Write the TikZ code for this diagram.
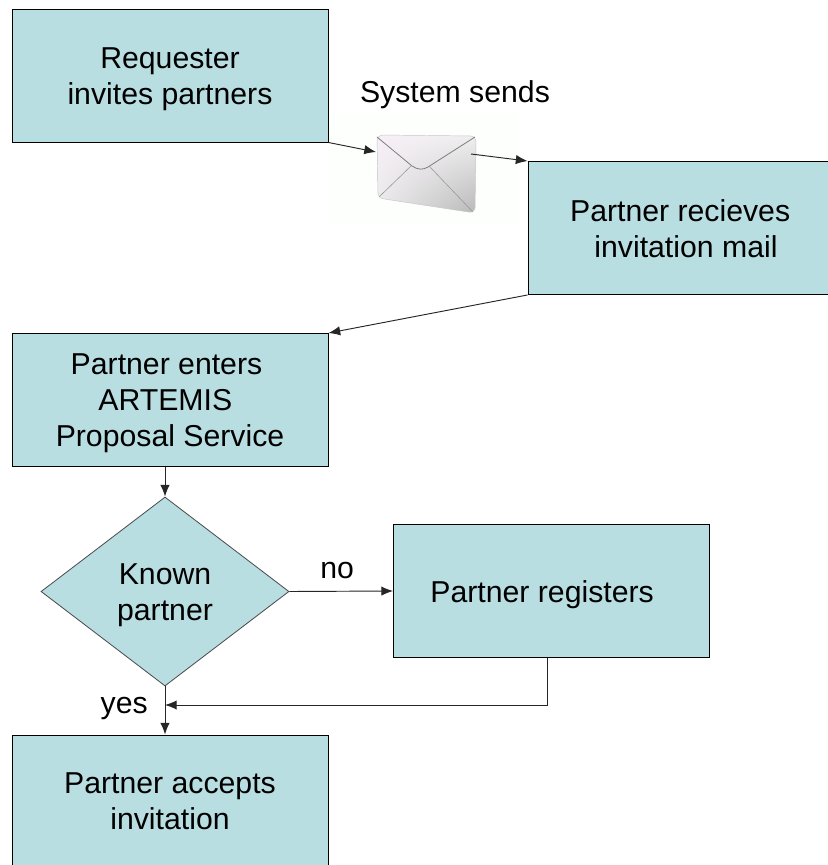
\documentclass[tikz,border=0pt]{standalone}
\usepackage{fontspec}
\setmainfont{Liberation Sans}
\usepackage{xcolor}
\usetikzlibrary{shapes,shadings,arrows.meta,positioning}
\definecolor{boxteal}{HTML}{B8DEE2}
\newcommand{\flowlines}[2]{\raisebox{-#1}[\height][\depth]{\begin{tabular}{@{}c@{}}#2\end{tabular}}}
\tikzset{
  flowbox/.style={draw=black,fill=boxteal,line width=0.8pt,minimum width=9.48cm,minimum height=3.99cm,align=center,inner sep=0pt},
  flowdia/.style={diamond,draw=black!70,fill=boxteal,line width=0.7pt,minimum width=7.44cm,minimum height=5.67cm,aspect=1.31,align=center,inner sep=0pt},
  flowtext/.style={font=\fontsize{25.8}{30.8}\selectfont},
  flowarrow/.style={draw=black!85,line width=0.8pt,-{Latex[length=10pt,width=8pt]}}
}
\begin{document}
\begin{tikzpicture}[x=0.03cm,y=-0.03cm]
\useasboundingbox (0,0) rectangle (827,865);
\fill[white] (0,0) rectangle (827,865);

% Boxes
\node[flowbox,flowtext] (request) at (170,75.5) {\flowlines{3.3pt}{Requester\\invites partners}};
\node[flowbox,flowtext] (receive) at (686,228) {\flowlines{3.8pt}{\hspace*{-10pt}Partner recieves\\invitation mail}};
\node[flowbox,flowtext] (enter) at (170,400) {\flowlines{2.8pt}{\hspace*{-6pt}Partner enters\\\hspace*{-8pt}ARTEMIS\\Proposal Service}};
\node[flowdia,flowtext] (known) at (165,591.5) {\flowlines{3pt}{Known\\partner}};
\node[flowbox,flowtext] (register) at (551.5,591) {\hspace*{-16pt}\flowlines{3.4pt}{Partner registers}};
\node[flowbox,flowtext] (accept) at (170,801.5) {Partner accepts\\invitation};

% Envelope
\fill[fill=white!99!green] (330,114) rectangle (518,224);
\coordinate (mailin) at (376,152);
\coordinate (mailout) at (471,154);
\shade[upper left=white!94!violet,upper right=black!6,lower left=black!8,lower right=black!28,rounded corners=5pt,draw=black!22,line width=0.4pt]
  (377,135) -- (476,136) -- (475,213) -- (378,198) -- cycle;
\draw[black!50,line width=0.7pt] (377,137) -- (412,166) .. controls (418,170) and (423,170) .. (428,167) -- (475,137);
\draw[black!40,line width=0.5pt] (411,166) -- (379,197);
\draw[black!40,line width=0.5pt] (429,166) -- (473,212);
\node[flowtext] (sends) at (455,95) {System sends};

% Connectors
\draw[flowarrow] (request.south east) -- (mailin);
\draw[flowarrow] (mailout) -- (receive.north west);
\draw[flowarrow] (receive.south west) -- (enter.north east);
\draw[flowarrow] (enter.south -| known.north) -- (known.north);
\draw[flowarrow] (known.east) -- (register.west) node[pos=0.46,above=6.5pt,flowtext] (no) {no};
\draw[flowarrow] (known.south) -- (known.south |- accept.north) node[pos=0.45,left=11pt,flowtext] (yes) {yes};
\draw[flowarrow] (register.south -| 547,0) |- (known.south |- 0,705);
\end{tikzpicture}
\end{document}
